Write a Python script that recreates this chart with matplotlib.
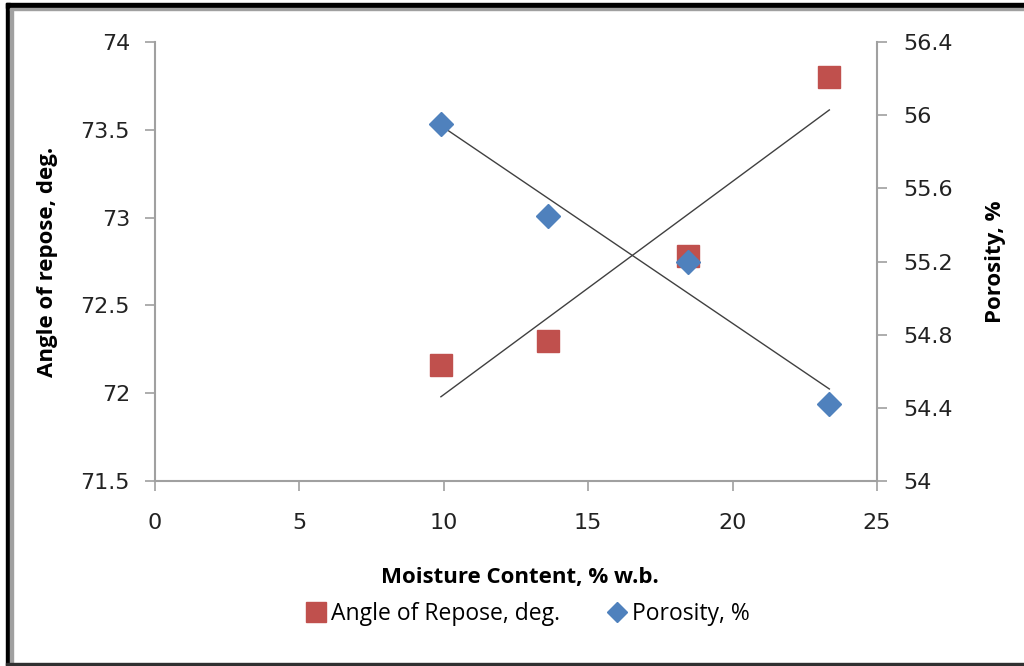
import numpy as np
import matplotlib
matplotlib.use("Agg")
import matplotlib.pyplot as plt
from matplotlib.lines import Line2D
from matplotlib.patches import Rectangle

moisture = [9.9, 13.6, 18.45, 23.35]
angle_of_repose = [72.16, 72.30, 72.78, 73.80]
porosity = [55.95, 55.45, 55.20, 54.42]

x_ticks = [0, 5, 10, 15, 20, 25]
left_ticks = [71.5, 72, 72.5, 73, 73.5, 74]
right_ticks = [54, 54.4, 54.8, 55.2, 55.6, 56, 56.4]

red = "#C0504D"
blue = "#4F81BD"
axis_gray = "#A0A0A0"
tick_font = "DejaVu Sans"
label_font = "Open Sans"

W, H = 1024, 666
fig = plt.figure(figsize=(W / 100, H / 100), dpi=100)
ax = fig.add_axes([155 / W, 1 - 481 / H, (877 - 155) / W, (481 - 42) / H])
ax2 = ax.twinx()

ax.set_xlim(0, 25)
ax.set_ylim(71.5, 74)
ax2.set_ylim(54, 56.4)

# trendlines
for xs, ys, a in [(moisture, angle_of_repose, ax), (moisture, porosity, ax2)]:
    m, b = np.polyfit(xs, ys, 1)
    xx = np.array([min(xs), max(xs)])
    a.plot(xx, m * xx + b, color="#404040", lw=1.0, zorder=2)

ax.plot(moisture, angle_of_repose, linestyle="none", marker="s", ms=16,
        color=red, mec=red, zorder=3)
ax2.plot(moisture, porosity, linestyle="none", marker="D", ms=12,
         color=blue, mec=blue, zorder=3)

for a in (ax, ax2):
    for s in a.spines.values():
        s.set_visible(False)
    a.tick_params(colors=axis_gray, labelcolor="#222222", labelsize=16,
                  length=7, width=1.2, direction="out")
for a, side in [(ax, "left"), (ax, "bottom"), (ax2, "right")]:
    a.spines[side].set_visible(True)
    a.spines[side].set_color(axis_gray)
    a.spines[side].set_linewidth(1.5)

ax.set_xticks(x_ticks)
ax.set_xticklabels([str(v) for v in x_ticks], fontfamily=tick_font)
ax.set_yticks(left_ticks)
ax.set_yticklabels([f"{v:g}" for v in left_ticks], fontfamily=tick_font)
ax2.set_yticks(right_ticks)
ax2.set_yticklabels([f"{v:g}" for v in right_ticks], fontfamily=tick_font)
ax.tick_params(axis="x", pad=16)
ax.tick_params(axis="y", pad=11)
ax2.tick_params(axis="y", pad=12)

ax.set_ylabel("Angle of repose, deg.", fontsize=16, fontweight="bold",
              fontfamily=label_font, labelpad=16)
ax2.set_ylabel("Porosity, %", fontsize=16, fontweight="bold",
               fontfamily=label_font, labelpad=23)

fig.text(520 / W, 1 - 577 / H, "Moisture Content, % w.b.", ha="center",
         va="center", fontsize=16, fontweight="bold", fontfamily=label_font)

handles = [
    Line2D([], [], linestyle="none", marker="s", ms=15, color=red),
    Line2D([], [], linestyle="none", marker="D", ms=10, color=blue),
]
fig.legend(handles, ["Angle of Repose, deg.", "Porosity, %"],
           loc="center", bbox_to_anchor=(527 / W, 1 - 614 / H), ncol=2,
           frameon=False, prop={"family": label_font, "size": 16.5},
           handletextpad=0.15, columnspacing=2.0, handlelength=1.0)

# frame around the chart
fig.patches.append(Rectangle((6 / W, 0), 4 / W, 1 - 3 / H, transform=fig.transFigure,
                             color="black", zorder=10))
fig.patches.append(Rectangle((10 / W, 0), 3 / W, 1 - 8 / H, transform=fig.transFigure,
                             color="#A0A0A0", zorder=10))
fig.patches.append(Rectangle((6 / W, 1 - 8 / H), 1 - 6 / W, 5 / H, transform=fig.transFigure,
                             color="black", zorder=10))
fig.patches.append(Rectangle((10 / W, 1 - 10 / H), 1 - 10 / W, 2 / H, transform=fig.transFigure,
                             color="#A0A0A0", zorder=10))
fig.patches.append(Rectangle((6 / W, 1 - 665 / H), 1 - 6 / W, 2 / H, transform=fig.transFigure,
                             color="#303030", zorder=10))

fig.savefig("out.png", dpi=100)
